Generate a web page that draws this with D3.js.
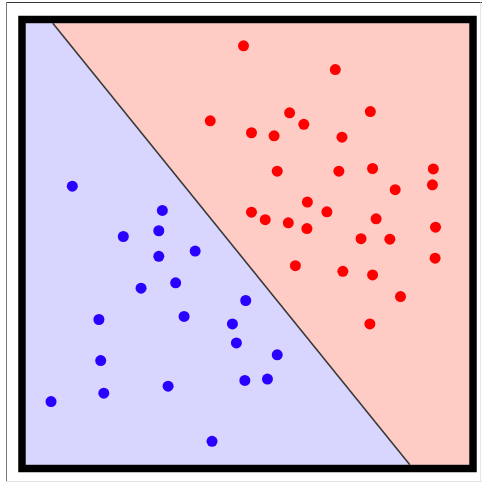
<!DOCTYPE html>
<meta charset="utf-8">
<title>Linear separation</title>
<style>
  body { margin: 0; background: #fff; }
</style>
<body>
<script src="https://d3js.org/d3.v7.min.js"></script>
<script type="text/javascript">

// class A (red) points, x / y in 0..100 units
var redX = [49.1, 69.8, 41.6, 59.5, 62.7, 77.7, 50.9, 56.0, 71.3, 56.7, 70.6,
            78.2, 91.9, 91.7, 83.3, 63.5, 50.9, 54.0, 59.2, 67.9, 63.4, 79.0,
            75.6, 82.1, 92.4, 60.8, 71.5, 78.2, 92.3, 84.5, 77.6];
var redY = [94.9, 89.5, 77.9, 79.7, 77.1, 80.0, 75.2, 74.5, 74.2, 66.5, 66.5,
            67.1, 67.0, 63.4, 62.3, 59.5, 57.2, 55.5, 54.8, 57.3, 53.5, 55.7,
            51.2, 51.1, 53.8, 45.1, 43.8, 43.0, 46.8, 38.1, 31.9];

// class B (blue) points
var blueX = [10.5, 30.8, 30.0, 22.0, 30.0, 38.2, 33.8, 26.0, 49.6, 16.5, 35.7,
             46.6, 47.5, 56.7, 16.9, 49.4, 54.5, 32.1, 17.6, 5.7, 42.0];
var blueY = [63.1, 57.6, 53.0, 51.7, 47.2, 48.4, 41.2, 40.0, 37.2, 32.9, 33.6,
             31.9, 27.6, 24.9, 23.6, 19.1, 19.4, 17.8, 16.2, 14.3, 5.3];

// separating line: where it hits the top and the bottom of the box
var lineX = [6.1, 86.6];
var lineY = [100, 0];

var width = 482, height = 483;

var x = d3.scaleLinear().domain([0, 100]).range([25.75, 469.25]);
var y = d3.scaleLinear().domain([0, 100]).range([464.75, 23.25]);

var svg = d3.select("body").append("svg")
    .attr("width", width)
    .attr("height", height);

// thin outer frame
svg.append("line").attr("x1", 6.5).attr("y1", 2.5).attr("x2", 482).attr("y2", 2.5)
    .style("stroke", "#333").style("stroke-width", 1);
svg.append("line").attr("x1", 6.5).attr("y1", 2.5).attr("x2", 6.5).attr("y2", 481.5)
    .style("stroke", "#777").style("stroke-width", 1);
svg.append("line").attr("x1", 6.5).attr("y1", 481.5).attr("x2", 482).attr("y2", 481.5)
    .style("stroke", "#e2e2e2").style("stroke-width", 1);
svg.append("line").attr("x1", 480.5).attr("y1", 2.5).attr("x2", 480.5).attr("y2", 481.5)
    .style("stroke", "#e6e6e6").style("stroke-width", 1);

var line = d3.line().x(function(d) { return x(d[0]); }).y(function(d) { return y(d[1]); });

var pTop = [lineX[0], lineY[0]], pBottom = [lineX[1], lineY[1]];

// blue half-plane
svg.append("path")
    .attr("d", line([[0, 100], pTop, pBottom, [0, 0]]) + "Z")
    .style("fill", "#d8d5ff");

// red half-plane
svg.append("path")
    .attr("d", line([pTop, [100, 100], [100, 0], pBottom]) + "Z")
    .style("fill", "#ffccc5");

// boundary
svg.append("path")
    .attr("d", line([pTop, pBottom]))
    .style("stroke", "#3a3a3a").style("stroke-width", 1.6).style("fill", "none");

// points
svg.selectAll("circle.red")
    .data(d3.range(redX.length))
  .enter().append("circle")
    .attr("class", "red")
    .attr("cx", function(i) { return x(redX[i]); })
    .attr("cy", function(i) { return y(redY[i]); })
    .attr("r", 5.5)
    .style("fill", "#ff0000");

svg.selectAll("circle.blue")
    .data(d3.range(blueX.length))
  .enter().append("circle")
    .attr("class", "blue")
    .attr("cx", function(i) { return x(blueX[i]); })
    .attr("cy", function(i) { return y(blueY[i]); })
    .attr("r", 5.5)
    .style("fill", "#2a00ff");

// thick box
svg.append("rect")
    .attr("x", x(0) - 3.75).attr("y", y(100) - 3.75)
    .attr("width", x(100) - x(0) + 7.5).attr("height", y(0) - y(100) + 7.5)
    .style("fill", "none").style("stroke", "#000").style("stroke-width", 7.5);

</script>
</body>
